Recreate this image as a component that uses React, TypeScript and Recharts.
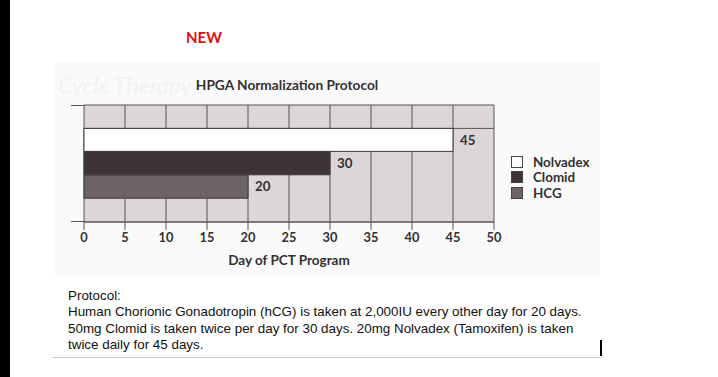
import React from 'react';
import { BarChart, Bar, XAxis, YAxis, CartesianGrid, Cell, LabelList } from 'recharts';

// rows of the chart, top to bottom (first and last rows are empty)
const rows = ['top', 'Nolvadex', 'Clomid', 'HCG', 'bottom'];
const days: (number | null)[] = [null, 45, 30, 20, null];
const fills = ['#ffffff', '#ffffff', '#3e3438', '#6e6367', '#ffffff'];

const legendNames = ['Nolvadex', 'Clomid', 'HCG'];
const legendFills = ['#ffffff', '#3e3438', '#6e6367'];

const dayTicks = [0, 5, 10, 15, 20, 25, 30, 35, 40, 45, 50];

const protocolLines = [
    'Protocol:',
    'Human Chorionic Gonadotropin (hCG) is taken at 2,000IU every other day for 20 days.',
    '50mg Clomid is taken twice per day for 30 days. 20mg Nolvadex (Tamoxifen) is taken',
    'twice daily for 45 days.',
];

const data = rows.map((row, i) => ({ row, days: days[i] }));

const chartFont = 'Lato, "Open Sans", sans-serif';
const ink = '#333033';

const App: React.FC = () => {
    return (
        <div style={{ position: 'fixed', left: 0, top: 0, width: 718, height: 377, background: '#fff', overflow: 'hidden' }}>
            {/* black strip on the left */}
            <div style={{ position: 'absolute', left: 0, top: 0, width: 10, height: 377, background: '#000' }} />

            {/* faint scanned page background */}
            <div style={{ position: 'absolute', left: 55, top: 62, width: 545, height: 215, background: '#fafafa' }} />
            <div style={{ position: 'absolute', left: 58, top: 71, fontFamily: 'Lato, serif', fontStyle: 'italic', fontSize: 23, color: '#f2f2f2' }}>
                Cycle Therapy
            </div>

            <div style={{ position: 'absolute', left: 186, top: 28, fontFamily: chartFont, fontWeight: 700, fontSize: 15, color: '#e01010' }}>
                NEW
            </div>
            <div style={{ position: 'absolute', left: 0, width: 574, top: 76, textAlign: 'center', fontFamily: chartFont, fontWeight: 700, fontSize: 13.7, color: ink }}>
                HPGA Normalization Protocol
            </div>

            {/* left extensions of the top and bottom frame lines */}
            <div style={{ position: 'absolute', left: 71, top: 105, width: 14, height: 1, background: '#555' }} />
            <div style={{ position: 'absolute', left: 71, top: 221, width: 14, height: 1, background: '#555' }} />

            <div style={{ position: 'absolute', left: 0, top: 0 }}>
                <BarChart
                    width={718}
                    height={297}
                    data={data}
                    layout="vertical"
                    barCategoryGap={0}
                    margin={{ top: 105, right: 224, bottom: 18, left: 84 }}
                >
                    <CartesianGrid
                        fill="#ddd6d8"
                        fillOpacity={1}
                        stroke="#555"
                        strokeWidth={1}
                        horizontalCoordinatesGenerator={({ offset }: any) => [
                            offset.top,
                            offset.top + offset.height / rows.length,
                            offset.top + offset.height,
                        ]}
                    />
                    <XAxis
                        type="number"
                        domain={[0, 50]}
                        ticks={dayTicks}
                        interval={0}
                        height={57}
                        tickSize={8}
                        tickMargin={3}
                        stroke="#555"
                        tick={{ fill: ink, fontSize: 12.8, fontWeight: 700, fontFamily: chartFont }}
                        label={{ value: 'Day of PCT Program', position: 'insideBottom', offset: 14, fill: ink, fontSize: 13.5, fontWeight: 700, fontFamily: chartFont }}
                    />
                    <YAxis type="category" dataKey="row" hide />
                    <Bar dataKey="days" stroke="#3a3a3a" strokeWidth={1} isAnimationActive={false}>
                        {data.map((d, i) => (
                            <Cell key={d.row} fill={fills[i]} />
                        ))}
                        <LabelList dataKey="days" position="right" offset={7} fill={ink} fontSize={13.3} fontWeight={700} fontFamily={chartFont} />
                    </Bar>
                </BarChart>
            </div>

            {/* legend */}
            <div style={{ position: 'absolute', left: 511, top: 154, fontFamily: chartFont, fontWeight: 700, fontSize: 13.4, color: ink }}>
                {legendNames.map((name, i) => (
                    <div key={name} style={{ display: 'flex', alignItems: 'center', height: 15.5 }}>
                        <span style={{ display: 'inline-block', width: 10, height: 10, background: legendFills[i], border: '1px solid #444', marginRight: 10 }} />
                        {name}
                    </div>
                ))}
            </div>

            {/* protocol note */}
            <div style={{ position: 'absolute', left: 68, top: 288, fontFamily: '"Liberation Sans", Arial, sans-serif', fontSize: 13.4, lineHeight: '16.3px', color: '#111' }}>
                {protocolLines.map((line) => (
                    <div key={line}>{line}</div>
                ))}
            </div>
            <div style={{ position: 'absolute', left: 52, top: 357, width: 549, height: 1, background: '#c8ccd0' }} />
            <div style={{ position: 'absolute', left: 600, top: 340, width: 2, height: 16, background: '#000' }} />
        </div>
    );
};

export default App;
